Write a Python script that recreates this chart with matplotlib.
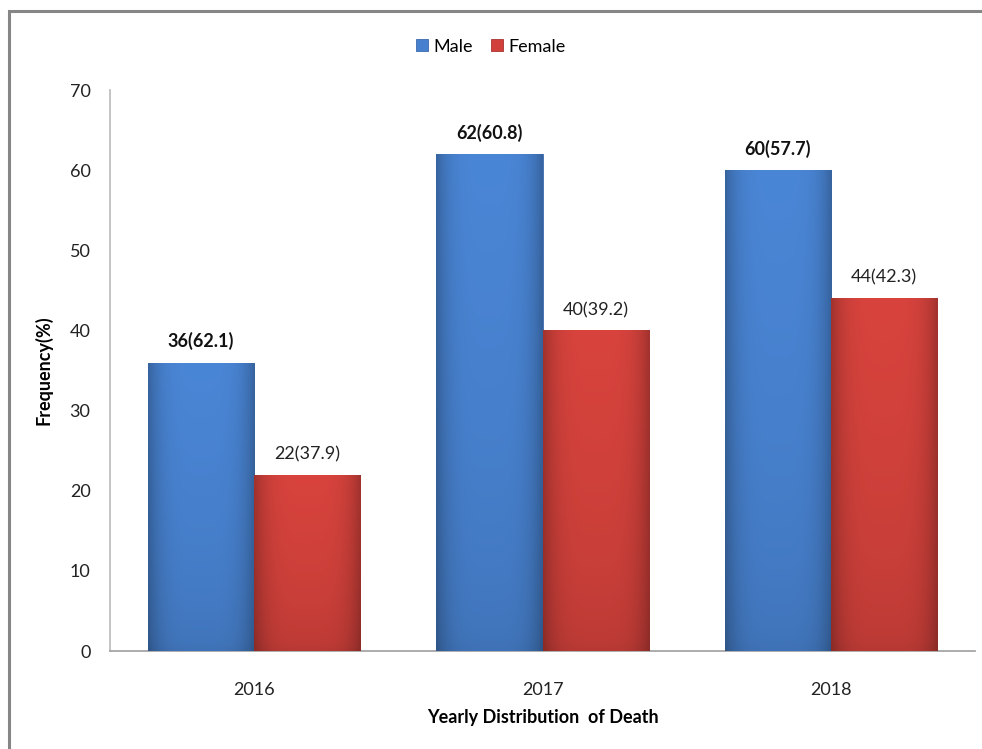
import numpy as np
import matplotlib.pyplot as plt
from matplotlib.patches import Rectangle
from matplotlib.colors import to_rgb

years = ['2016', '2017', '2018']
male = [36, 62, 60]
female = [22, 40, 44]
male_labels = ['36(62.1)', '62(60.8)', '60(57.7)']
female_labels = ['22(37.9)', '40(39.2)', '44(42.3)']

plt.rcParams['font.family'] = ['Lato', 'DejaVu Sans']

fig = plt.figure(figsize=(9.82, 7.49), dpi=100)
ax = fig.add_axes([0.112, 0.1308, 0.881, 0.749])

# outer chart border
fig.patches.append(Rectangle((8.5 / 982, -0.05), 1.1, 1 - 10.5 / 749 + 0.05,
                             transform=fig.transFigure, fill=False,
                             edgecolor='#868686', linewidth=2.2, zorder=0))

x = np.arange(len(years))
w = 0.368
fs = 13


def shaded(bars, base):
    base = np.array(to_rgb(base))
    nx, ny = 60, 60
    gx = np.linspace(-1, 1, nx)
    gy = np.linspace(0, 1, ny)
    sx = 1 - 0.25 * np.abs(gx) ** 4
    sy = 0.85 + 0.15 * gy ** 0.5
    shade = np.outer(sy, sx)
    img = np.clip(shade[..., None] * base[None, None, :], 0, 1)
    for b in bars:
        x0, y0 = b.get_x(), b.get_y()
        x1, y1 = x0 + b.get_width(), y0 + b.get_height()
        im = ax.imshow(img, extent=(x0, x1, y0, y1), origin='lower',
                       aspect='auto', zorder=3, interpolation='bilinear')
        im.set_clip_path(b)


mb = ax.bar(x - w / 2, male, w, color='#4680CE', label='Male', zorder=2,
            edgecolor='#3A6AAE', linewidth=0.6)
fb = ax.bar(x + w / 2, female, w, color='#D2403B', label='Female', zorder=2,
            edgecolor='#A83330', linewidth=0.6)
shaded(mb, '#4A86D6')
shaded(fb, '#D8433D')

for xi, v, t in zip(x - w / 2, male, male_labels):
    ax.annotate(t, (xi, v), xytext=(0, 9), textcoords='offset points',
                ha='center', va='bottom', fontsize=fs, fontweight='bold',
                color='#111111')
for xi, v, t in zip(x + w / 2, female, female_labels):
    ax.annotate(t, (xi, v), xytext=(0, 9), textcoords='offset points',
                ha='center', va='bottom', fontsize=fs, color='#222222')

ax.set_xlim(-0.5, 2.5)
ax.set_ylim(0, 70)
ax.set_yticks(range(0, 71, 10))
ax.set_xticks(x)
ax.set_xticklabels(years)
ax.tick_params(axis='both', length=0, labelsize=fs, colors='#222222')
ax.tick_params(axis='x', pad=22)
ax.tick_params(axis='y', pad=14)

for s in ['top', 'right']:
    ax.spines[s].set_visible(False)
ax.spines['left'].set_color('#BFBFBF')
ax.spines['bottom'].set_color('#A6A6A6')
ax.spines['left'].set_linewidth(1.3)
ax.spines['bottom'].set_linewidth(1.3)

ax.set_xlabel('Yearly Distribution  of Death', fontsize=fs,
              fontweight='bold', labelpad=8)
ax.set_ylabel('Frequency(%)', fontsize=fs, fontweight='bold', labelpad=12)

fig.legend(handles=[mb, fb], loc='upper center', bbox_to_anchor=(0.5, 0.97),
           ncol=2, frameon=False, fontsize=fs, handlelength=0.65,
           handleheight=0.65, handletextpad=0.3, columnspacing=1.0)

fig.savefig('out.png', dpi=100, facecolor='white')
